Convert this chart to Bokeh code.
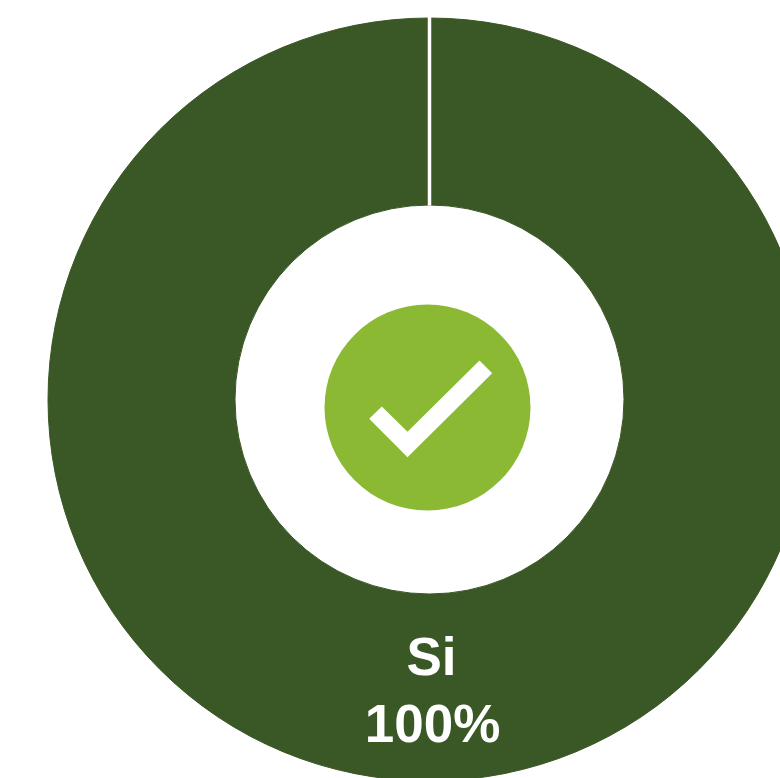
import math
from bokeh.plotting import figure
from bokeh.models import Range1d, ColumnDataSource
from bokeh.core.properties import value
from bokeh.embed import file_html
from bokeh.resources import INLINE

categories = ["Si"]
shares = [100]
share_labels = ["100%"]

PAGE_W, PAGE_H = 780, 778
CX, CY = 429, 399  # donut centre in figure pixels
p = figure(width=PAGE_W, height=PAGE_H, output_backend="svg", toolbar_location=None,
           x_range=Range1d(-CX, PAGE_W - CX), y_range=Range1d(CY - PAGE_H, CY),
           min_border=0, outline_line_color=None, background_fill_color="white")
p.axis.visible = False
p.grid.visible = False

# Ring: two half arcs so the full turn renders reliably
total = sum(shares)
sweep = 2 * math.pi * shares[0] / total
start = math.pi / 2
starts = [start, start - sweep / 2]
ends = [start - sweep / 2, start - sweep]
p.annular_wedge(x=0, y=0, inner_radius=194.5, outer_radius=381.5, start_angle=starts, end_angle=ends,
                direction="clock", fill_color="#3A5726", line_color="#3A5726", line_width=1)

# Seam where the single slice begins
p.segment(x0=[0], y0=[194], x1=[0], y1=[384], line_color="white", line_width=3.5)

# Centre badge
p.circle(x=[-2], y=[-8], radius=103, fill_color="#8CB934", line_color=None)
check_x = [368.7, 381.3, 407, 479, 491.7, 407]
check_y = [418.3, 406, 431.3, 360, 372.7, 456.7]
p.patch(x=[v - CX for v in check_x], y=[CY - v for v in check_y], fill_color="white", line_color=None)

src = ColumnDataSource(dict(x=[2, 3], y=[-256.5, -324], t=[categories[0], share_labels[0]]))
p.text(x="x", y="y", text="t", source=src, text_color="white", text_align="center", text_baseline="middle",
       text_font=value("Liberation Sans"), text_font_size="53px", text_font_style="bold")

open("out.html", "w").write(file_html(p, INLINE))
